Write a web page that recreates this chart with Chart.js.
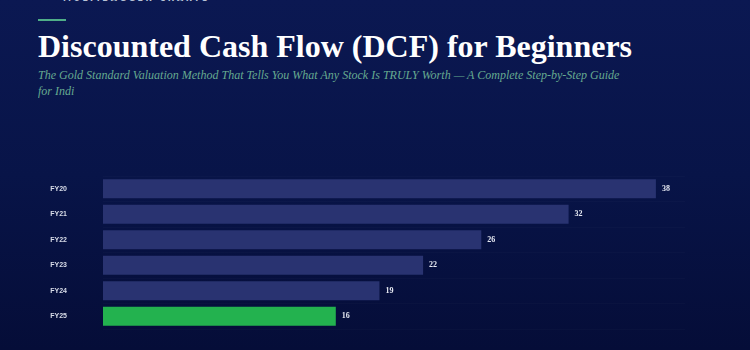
<!DOCTYPE html>
<html>
<head>
<meta charset="utf-8">
<script src="https://cdn.jsdelivr.net/npm/chart.js@4"></script>
<style>
  html, body { margin: 0; padding: 0; }
  body {
    width: 750px; height: 350px; overflow: hidden; position: relative;
    background: linear-gradient(180deg, #0b1852 0%, #081448 50%, #050d38 100%);
  }
  .brand { position: absolute; left: 38px; top: -6px; display: flex; align-items: center; }
  .brand .bar { width: 17px; height: 2px; background: #7fa99a; margin-right: 8px; }
  .brand span { font: bold 8px "DejaVu Sans", sans-serif; letter-spacing: 2.5px; color: #b9c3d6; }
  .accent { position: absolute; left: 38px; top: 19px; width: 28px; height: 2px; background: #4fae88; }
  h1 {
    position: absolute; left: 38px; top: 28px; margin: 0;
    font: bold 32px "Liberation Serif", serif; color: #ffffff; white-space: nowrap;
  }
  .sub {
    position: absolute; left: 38px; top: 67px; margin: 0;
    font: italic 13.5px/16px "Liberation Serif", serif; color: #66aa90; white-space: nowrap;
    transform: scaleX(0.89); transform-origin: left top;
  }
  #myChart { position: absolute; left: 0; top: 165px; }
</style>
</head>
<body>
<div class="brand"><div class="bar"></div><span>MULTIBAGGER CHARTS</span></div>
<div class="accent"></div>
<h1>Discounted Cash Flow (DCF) for Beginners</h1>
<p class="sub">The Gold Standard Valuation Method That Tells You What Any Stock Is TRULY Worth — A Complete Step-by-Step Guide<br>for Indi</p>
<canvas id="myChart" width="750" height="185"></canvas>
<script>
// Data
const years = ["FY20", "FY21", "FY22", "FY23", "FY24", "FY25"];
const values = [38, 32, 26, 22, 19, 16];
const barColors = ["#293371", "#293371", "#293371", "#293371", "#293371", "#23b24f"];

// category labels + value labels, drawn off the chart's own scales
const barLabels = {
  id: 'barLabels',
  afterDatasetsDraw(chart) {
    const ctx = chart.ctx;
    const meta = chart.getDatasetMeta(0);
    const yScale = chart.scales.y;
    ctx.save();
    ctx.textBaseline = 'middle';

    // year labels, right aligned a bit left of the bars
    ctx.font = 'bold 7px "Liberation Sans", sans-serif';
    ctx.fillStyle = '#d8dce8';
    ctx.textAlign = 'right';
    years.forEach((y, i) => {
      ctx.fillText(y, chart.chartArea.left - 36, yScale.getPixelForTick(i));
    });

    // values
    ctx.font = 'bold 8px "Liberation Serif", serif';
    ctx.fillStyle = '#e6e9f2';
    ctx.textAlign = 'left';
    meta.data.forEach((bar, i) => {
      ctx.fillText(values[i], bar.x + 6, bar.y);
    });
    ctx.restore();
  }
};

const ctx = document.getElementById('myChart');

new Chart(ctx, {
  type: "bar",
  data: {
    labels: years,
    datasets: [{
      backgroundColor: barColors,
      data: values,
      barPercentage: 0.75,
      categoryPercentage: 1
    }]
  },
  options: {
    indexAxis: 'y',
    responsive: false,
    animation: false,
    layout: { padding: { left: 103, right: 65, top: 11, bottom: 21 } },
    scales: {
      x: { display: false, min: 0, max: 40 },
      y: {
        border: { display: false },
        grid: { offset: true, drawTicks: false, color: 'rgba(255,255,255,0.018)' },
        ticks: { display: false }
      }
    },
    plugins: {
      legend: { display: false },
      tooltip: { enabled: false }
    }
  },
  plugins: [barLabels]
});
</script>
</body>
</html>
